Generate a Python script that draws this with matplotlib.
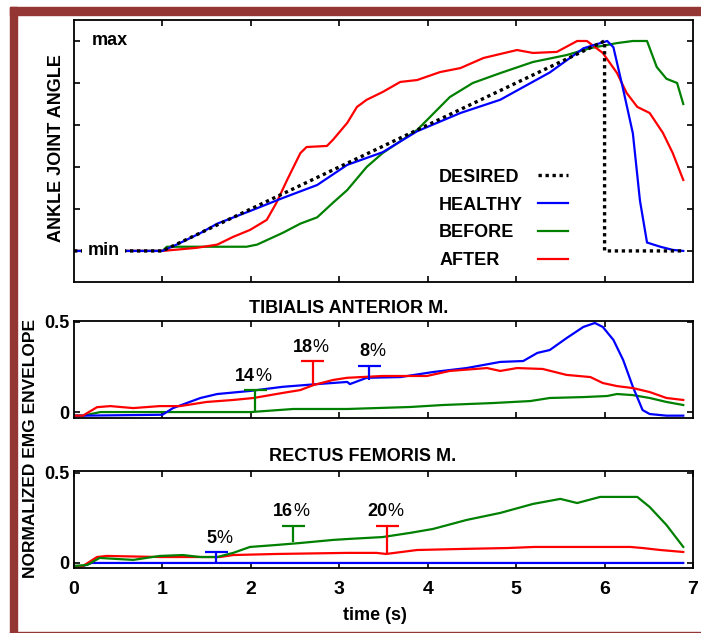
import matplotlib
matplotlib.use("Agg")
import matplotlib.pyplot as plt
from matplotlib.lines import Line2D
from matplotlib.patches import Rectangle

plt.rcParams['font.family'] = ['Liberation Sans Narrow', 'Liberation Sans', 'DejaVu Sans']
plt.rcParams['font.weight'] = 'bold'

BLUE = '#0000ff'
GREEN = '#008000'
RED = '#ff0000'
BORDER = '#943634'

# --- ankle joint angle (0 = min, 1 = max) ---
desired_t = [0, 1.0, 6.0, 6.0, 6.9]
desired_v = [0, 0, 1.0, 0, 0]

healthy_t = [0, 1.0, 1.16, 1.43, 1.62, 1.99, 2.36, 2.75, 3.09, 3.49, 3.88, 4.37, 4.82, 5.38, 5.76,
             6.03, 6.1, 6.21, 6.32, 6.4, 6.48, 6.63, 6.77, 6.89]
healthy_v = [0, 0, 0.03, 0.085, 0.13, 0.19, 0.252, 0.314, 0.41, 0.47, 0.57, 0.657, 0.72, 0.85, 0.965,
             1.0, 0.97, 0.77, 0.56, 0.24, 0.04, 0.02, 0.005, 0.0]

before_t = [0, 1.0, 1.05, 1.95, 2.07, 2.36, 2.56, 2.75, 2.93, 3.09, 3.31, 3.49, 3.88, 4.25,
            4.51, 4.82, 5.19, 5.57, 5.84, 6.14, 6.32, 6.48, 6.59, 6.7, 6.82, 6.89]
before_v = [0, 0, 0.02, 0.02, 0.03, 0.086, 0.13, 0.16, 0.23, 0.29, 0.40, 0.466, 0.576, 0.733,
            0.8, 0.847, 0.9, 0.933, 0.966, 0.99, 1.0, 1.0, 0.876, 0.82, 0.8, 0.70]

after_t = [0, 1.0, 1.39, 1.62, 1.8, 1.99, 2.18, 2.29, 2.41, 2.56, 2.63, 2.86, 2.93, 3.09, 3.2,
           3.31, 3.49, 3.69, 3.88, 4.14, 4.37, 4.63, 5.01, 5.19, 5.46, 5.69, 5.8, 5.98, 6.14,
           6.25, 6.37, 6.51, 6.66, 6.77, 6.89]
after_v = [0, 0, 0.015, 0.03, 0.067, 0.1, 0.148, 0.23, 0.338, 0.466, 0.495, 0.5, 0.53, 0.61, 0.686,
           0.72, 0.757, 0.805, 0.814, 0.852, 0.871, 0.919, 0.957, 0.943, 0.948, 1.0, 1.0, 0.943, 0.848,
           0.752, 0.686, 0.657, 0.562, 0.467, 0.338]

# --- tibialis anterior EMG ---
ta_healthy_t = [0, 0.1, 1.0, 1.12, 1.43, 1.62, 1.99, 2.36, 2.75, 3.09, 3.12, 3.31, 3.69, 4.06,
                4.44, 4.82, 5.08, 5.24, 5.38, 5.57, 5.76, 5.89, 5.98, 6.1, 6.21, 6.32, 6.43,
                6.51, 6.7, 6.89]
ta_healthy_v = [-0.02, -0.02, -0.015, 0.022, 0.078, 0.1, 0.117, 0.14, 0.155, 0.167, 0.155, 0.19,
                0.194, 0.222, 0.244, 0.278, 0.283, 0.328, 0.344, 0.41, 0.472, 0.494, 0.472, 0.4,
                0.289, 0.14, 0.011, -0.011, -0.02, -0.02]

ta_before_t = [0, 0.1, 0.3, 2.0, 2.48, 3.09, 3.8, 4.17, 4.74, 5.16, 5.38, 5.76, 6.03, 6.14,
               6.32, 6.51, 6.7, 6.89]
ta_before_v = [-0.02, -0.02, 0.0, 0.0, 0.017, 0.017, 0.028, 0.039, 0.05, 0.061, 0.078, 0.083,
               0.089, 0.1, 0.094, 0.078, 0.056, 0.039]

ta_after_t = [0, 0.1, 0.26, 0.41, 0.67, 0.97, 1.2, 1.5, 1.8, 2.03, 2.36, 2.56, 2.71, 2.93, 3.09,
              3.49, 3.99, 4.25, 4.67, 4.82, 5.01, 5.3, 5.57, 5.84, 5.98, 6.14, 6.32, 6.51, 6.7, 6.89]
ta_after_v = [-0.02, -0.02, 0.027, 0.033, 0.022, 0.033, 0.033, 0.056, 0.067, 0.078, 0.106, 0.122,
              0.15, 0.178, 0.19, 0.2, 0.2, 0.228, 0.244, 0.228, 0.244, 0.239, 0.206, 0.194, 0.161,
              0.144, 0.133, 0.111, 0.078, 0.067]

# --- rectus femoris EMG ---
rf_healthy_t = [0, 0.1, 0.2, 6.89]
rf_healthy_v = [-0.017, -0.017, 0.0, 0.0]

rf_before_t = [0, 0.15, 0.29, 0.49, 0.67, 0.97, 1.23, 1.43, 1.62, 1.8, 1.99, 2.29, 2.56, 2.93,
               3.09, 3.49, 3.8, 4.06, 4.44, 4.82, 5.19, 5.5, 5.69, 5.95, 6.21, 6.37, 6.51, 6.7, 6.89]
rf_before_v = [-0.017, -0.011, 0.028, 0.022, 0.017, 0.039, 0.044, 0.033, 0.033, 0.056, 0.089, 0.1,
               0.111, 0.128, 0.133, 0.144, 0.167, 0.189, 0.239, 0.278, 0.328, 0.356, 0.333, 0.367,
               0.367, 0.367, 0.311, 0.211, 0.089]

rf_after_t = [0, 0.1, 0.26, 0.37, 0.97, 1.65, 1.8, 2.29, 3.09, 3.42, 3.53, 3.88, 4.4, 4.9, 5.21,
              5.76, 6.29, 6.43, 6.63, 6.89]
rf_after_v = [-0.017, -0.017, 0.033, 0.039, 0.033, 0.033, 0.044, 0.05, 0.056, 0.056, 0.05, 0.072,
              0.078, 0.083, 0.089, 0.089, 0.089, 0.083, 0.072, 0.061]

# improvement markers: label, time, low, high, colour
ta_marks = [("14", 2.05, 0.0, 0.122, GREEN), ("18", 2.70, 0.15, 0.283, RED),
            ("8", 3.34, 0.178, 0.256, BLUE)]
rf_marks = [("5", 1.61, 0.0, 0.061, BLUE), ("16", 2.48, 0.117, 0.206, GREEN),
            ("20", 3.54, 0.056, 0.206, RED)]

FS = 13
LW = 1.6


def style_axes(ax):
    ax.set_xlim(0, 7)
    ax.tick_params(direction='in', top=True, right=True, length=4, width=1.2,
                   labelsize=FS)
    for s in ax.spines.values():
        s.set_linewidth(1.3)


def draw_marks(ax, marks):
    for txt, t, lo, hi, c in marks:
        ax.vlines(t, lo, hi, colors=c, lw=LW)
        ax.hlines(hi, t - 0.13, t + 0.13, colors=c, lw=LW)
        ax.text(t, hi + 0.03, txt, ha='right', va='bottom', fontsize=FS, fontweight='bold')
        ax.text(t, hi + 0.03, '%', ha='left', va='bottom', fontsize=FS, fontweight='normal')


fig = plt.figure(figsize=(7.01, 6.33), dpi=100)

# border
fig.patches.append(Rectangle((10 / 701, 0), 7 / 701, 1 - 7 / 633, transform=fig.transFigure,
                             color=BORDER, zorder=0))
fig.patches.append(Rectangle((10 / 701, 1 - 15 / 633), 691 / 701, 8 / 633, transform=fig.transFigure,
                             color=BORDER, zorder=0))
fig.patches.append(Rectangle((10 / 701, 0), 691 / 701, 1.2 / 633, transform=fig.transFigure,
                             color=BORDER, zorder=0))

ax1 = fig.add_axes([74 / 701, 1 - 282 / 633, 619 / 701, 262 / 633])
ax2 = fig.add_axes([74 / 701, 1 - 418 / 633, 619 / 701, 97 / 633])
ax3 = fig.add_axes([74 / 701, 1 - 568 / 633, 619 / 701, 97 / 633])

# top: ankle angle
style_axes(ax1)
ax1.plot(before_t, before_v, color=GREEN, lw=LW)
ax1.plot(after_t, after_v, color=RED, lw=LW)
ax1.plot(healthy_t, healthy_v, color=BLUE, lw=LW)
ax1.plot(desired_t, desired_v, color='black', lw=2.4, ls=(0, (1, 1.1)))
ax1.set_ylim(-0.148, 1.1)
ax1.set_yticks([0, 0.2, 0.4, 0.6, 0.8, 1.0])
ax1.set_xticks(range(1, 7))
ax1.tick_params(labelbottom=False, labelleft=False)
ax1.text(0.2, 1.0, 'max', ha='left', va='center', fontsize=FS, fontweight='bold')
ax1.text(0.15, 0.0, 'min', ha='left', va='center', fontsize=FS, fontweight='bold',
         bbox=dict(facecolor='white', edgecolor='none', boxstyle='square,pad=0.3'))

handles = [Line2D([], [], color='black', lw=2.4, ls=(0, (1, 1.1))),
           Line2D([], [], color=BLUE, lw=LW),
           Line2D([], [], color=GREEN, lw=LW),
           Line2D([], [], color=RED, lw=LW)]
labels = ['DESIRED', 'HEALTHY', 'BEFORE', 'AFTER']
blank = [Line2D([], [], ls='none') for _ in labels]
leg_prop = {'size': FS, 'weight': 'bold'}
leg_txt = ax1.legend(blank, labels, loc='upper left', bbox_to_anchor=(0.59, 0.432),
                     frameon=False, prop=leg_prop, handlelength=0, handletextpad=0,
                     labelspacing=0.6, borderpad=0, borderaxespad=0)
ax1.add_artist(leg_txt)
ax1.legend(handles, [''] * 4, loc='upper left', bbox_to_anchor=(0.7496, 0.432),
           frameon=False, prop=leg_prop, handlelength=1.65, handletextpad=0,
           labelspacing=0.6, borderpad=0, borderaxespad=0)

# middle: tibialis anterior
style_axes(ax2)
ax2.plot(ta_before_t, ta_before_v, color=GREEN, lw=LW)
ax2.plot(ta_healthy_t, ta_healthy_v, color=BLUE, lw=LW)
ax2.plot(ta_after_t, ta_after_v, color=RED, lw=LW)
draw_marks(ax2, ta_marks)
ax2.set_ylim(-0.033, 0.505)
ax2.set_yticks([0, 0.5], ['0', '0.5'])
ax2.set_xticks(range(1, 7))
ax2.tick_params(labelbottom=False, pad=3)
ax2.text(0.443, 1.13, 'TIBIALIS ANTERIOR M.', transform=ax2.transAxes, ha='center',
         va='center', fontsize=FS, fontweight='bold')

# bottom: rectus femoris
style_axes(ax3)
ax3.plot(rf_healthy_t, rf_healthy_v, color=BLUE, lw=LW)
ax3.plot(rf_after_t, rf_after_v, color=RED, lw=LW)
ax3.plot(rf_before_t, rf_before_v, color=GREEN, lw=LW)
draw_marks(ax3, rf_marks)
ax3.set_ylim(-0.028, 0.511)
ax3.set_yticks([0, 0.5], ['0', '0.5'])
ax3.set_xticks(range(0, 8))
ax3.tick_params(axis='y', pad=3)
ax3.tick_params(axis='x', pad=9, labelsize=FS + 1)
ax3.text(0.467, 1.15, 'RECTUS FEMORIS M.', transform=ax3.transAxes, ha='center',
         va='center', fontsize=FS, fontweight='bold')
ax3.set_xlabel('time (s)', fontsize=FS, fontweight='bold', x=0.486, labelpad=7)

fig.text(57 / 701, 1 - 148 / 633, 'ANKLE JOINT ANGLE', rotation=90, ha='center', va='center',
         fontsize=FS, fontweight='bold')
fig.text(31 / 701, 1 - 448 / 633, 'NORMALIZED EMG ENVELOPE', rotation=90, ha='center',
         va='center', fontsize=FS - 0.5, fontweight='bold')

fig.savefig('out.png', dpi=100, facecolor='white')
